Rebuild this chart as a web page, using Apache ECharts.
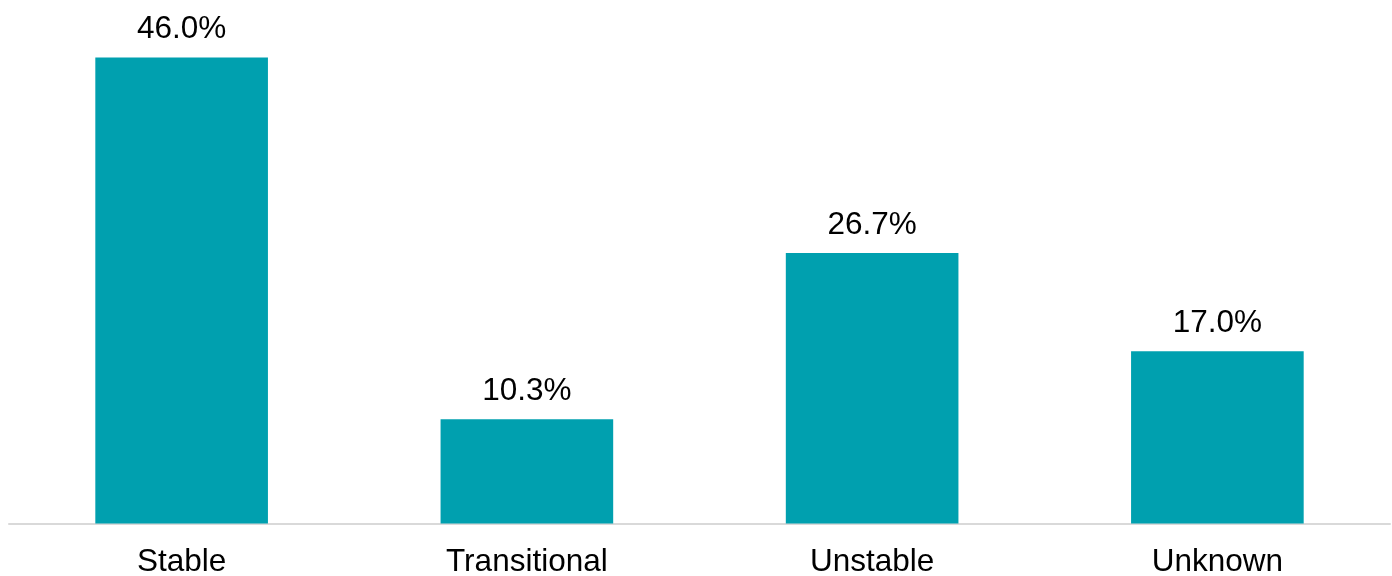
<!DOCTYPE html>
<html>
<head>
<meta charset="utf-8">
<script src="https://cdn.jsdelivr.net/npm/echarts@6/dist/echarts.min.js"></script>
<style>html,body{margin:0;padding:0;background:#fff}#c{width:1392px;height:576px}</style>
</head>
<body>
<div id="c"></div>
<script>
const categories = ['Stable', 'Transitional', 'Unstable', 'Unknown'];
const values = [46.0, 10.3, 26.7, 17.0];

const chart = echarts.init(document.getElementById('c'));
chart.setOption({
  animation: false,
  grid: { left: 9, right: 2, top: 17, bottom: 52.5, containLabel: false, outerBoundsMode: 'none' },
  xAxis: {
    type: 'category',
    data: categories,
    axisTick: { show: false },
    axisLine: { lineStyle: { color: '#d9d9d9', width: 2 } },
    axisLabel: { color: '#000', fontSize: 31.5, fontFamily: 'Liberation Sans, Arial, sans-serif', margin: 23 }
  },
  yAxis: {
    type: 'value', min: 0, max: 50, show: false,
    splitLine: { show: false }
  },
  series: [{
    type: 'bar',
    data: values,
    barWidth: '50%',
    itemStyle: { color: '#00A0AF' },
    label: {
      show: true, position: 'top', distance: 12,
      color: '#000', fontSize: 31.5, fontFamily: 'Liberation Sans, Arial, sans-serif',
      formatter: p => p.value.toFixed(1) + '%'
    }
  }]
});
</script>
</body>
</html>
